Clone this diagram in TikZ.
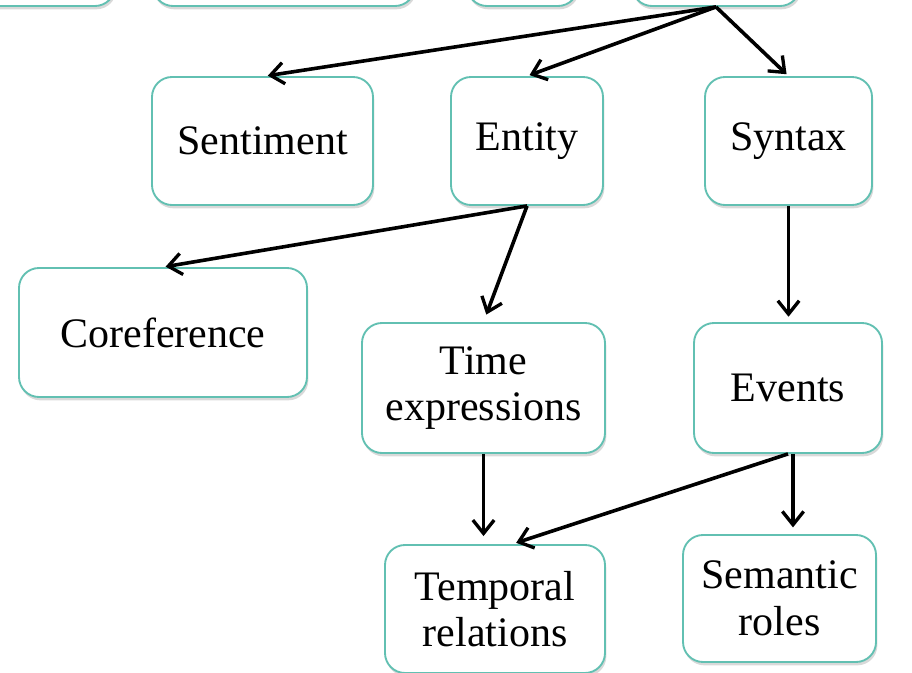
\documentclass[tikz,border=0pt]{standalone}
\usepackage{fontspec}
\setmainfont{Liberation Serif}
\usetikzlibrary{arrows.meta,shadows,calc}
\definecolor{boxline}{RGB}{98,192,178}
\tikzset{
  box/.style={draw=boxline, line width=1.4pt, fill=white, rounded corners=15pt,
    align=center, inner sep=0pt, font=\fontsize{31.5}{34}\selectfont,
    drop shadow={opacity=0.3, shadow xshift=1pt, shadow yshift=-2.5pt}},
  arr/.style={line width=2.7pt, -{Straight Barb[length=10pt,width=16pt,line width=2.5pt]}, shorten >=2pt}
}
\newcommand{\bx}[6]{% name, x1, y1, x2, y2, text
  \node[box, minimum width={(#4-#2)*0.75pt}, minimum height={(#5-#3)*0.75pt}] (#1) at ({(#2+#4)/2},{(#3+#5)/2}) {#6};}
\newcommand{\twol}[2]{\raisebox{-3pt}{\begin{tabular}{@{}c@{}}#1\\[-2pt]#2\end{tabular}}}
\begin{document}
\begin{tikzpicture}[x=0.75pt, y=-0.75pt]
\useasboundingbox (0,0) rectangle (912,673);
\clip (0,0) rectangle (912,673);
\bx{ta}{-60}{-40}{115}{6}{}
\bx{tb}{153}{-40}{415}{6}{}
\bx{tc}{467}{-40}{578}{6}{}
\bx{td}{632}{-40}{800}{6}{}
\bx{sen}{152}{77}{373}{205}{Sentiment}
\bx{ent}{451}{77}{603}{205}{Entity}
\bx{syn}{705}{77}{872}{205}{Syntax}
\bx{cor}{19}{268}{307}{397}{Coreference}
\bx{tim}{362}{323}{605}{453}{Time\\[1pt]expressions}
\bx{evt}{694}{323}{882}{453}{Events}
\bx{tem}{385}{545}{605}{673}{Temporal\\[1pt]relations}
\bx{sem}{683}{535}{876}{662}{Semantic\\[1pt]roles}
\draw[arr] (td.south) -- ([xshift=2pt]sen.north);
\draw[arr] (td.south) -- (ent.north);
\draw[arr] (td.south) -- (syn.north);
\draw[arr] (ent.south) -- (cor.north);
\draw[arr, shorten >=6pt] (ent.south) -- (tim.north);
\draw[arr, shorten >=4pt] (syn.south) -- (syn.south |- evt.north);
\draw[arr, shorten >=6pt] (tim.south) -- (tim.south |- tem.north);
\draw[arr, shorten >=3pt] (evt.south) -- ([xshift=13pt]tem.north);
\draw[arr, shorten >=5pt] ([xshift=3.75pt]evt.south) -- ([xshift=3.75pt]evt.south |- sem.north);
\end{tikzpicture}
\end{document}
